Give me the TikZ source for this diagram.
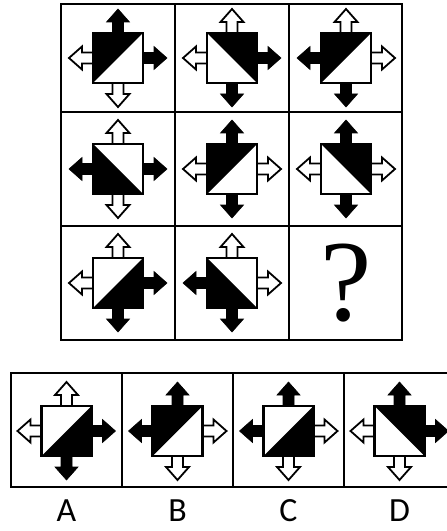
\documentclass[tikz,border=0pt]{standalone}
\usepackage{fontspec}
\setmainfont{Carlito}
\newfontfamily\qfont{Liberation Serif}
\tikzset{
  blkarrow/.style={fill=black, draw=black, line width=0.6bp, line join=miter},
  whtarrow/.style={fill=white, draw=black, line width=1.8bp, line join=miter},
  sqline/.style={draw=black, line width=2.6bp},
  gridline/.style={draw=black, line width=2bp},
  lbl/.style={font=\fontsize{34}{34}\selectfont, anchor=base, inner sep=0pt},
}
% arrow pointing down in local coordinates, rotated by #1
\newcommand{\puzarrow}[2]{%
  \draw[#2, rotate=#1] (-5.5,24) -- (-5.5,36) -- (-11.5,36) -- (0,49) -- (11.5,36) -- (5.5,36) -- (5.5,24) -- cycle;}
% #1,#2 centre; #3 black triangle; #4 up #5 right #6 down #7 left
\newcommand{\puzfig}[7]{%
  \begin{scope}[shift={(#1,#2)}]
    \puzarrow{180}{#4}\puzarrow{90}{#5}\puzarrow{0}{#6}\puzarrow{270}{#7}
    \fill[white] (-25,-25) rectangle (25,25);
    \fill[black] #3 -- cycle;
    \draw[sqline] (-25,-25) rectangle (25,25);
  \end{scope}}
\begin{document}
\begin{tikzpicture}[x=1bp, y=-1bp]
  \path[use as bounding box] (0,0) rectangle (447,531);
  \clip (0,0) rectangle (447,531);
  \fill[white] (0,0) rectangle (447,531);
  % top grid
  \draw[gridline] (61,4) rectangle (402,340);
  \draw[gridline] (175,4) -- (175,340) (289,4) -- (289,340)
                  (61,112) -- (402,112) (61,226) -- (402,226);
  % row 1
  \puzfig{118}{58}{(-25,-25) -- (25,-25) -- (-25,25)}{blkarrow}{blkarrow}{whtarrow}{whtarrow}
  \puzfig{232}{58}{(-25,-25) -- (25,-25) -- (25,25)}{whtarrow}{blkarrow}{blkarrow}{whtarrow}
  \puzfig{346}{58}{(-25,-25) -- (25,-25) -- (-25,25)}{whtarrow}{whtarrow}{blkarrow}{blkarrow}
  % row 2
  \puzfig{118}{169}{(-25,-25) -- (25,25) -- (-25,25)}{whtarrow}{blkarrow}{whtarrow}{blkarrow}
  \puzfig{232}{169}{(-25,-25) -- (25,-25) -- (-25,25)}{blkarrow}{whtarrow}{blkarrow}{whtarrow}
  \puzfig{346}{169}{(-25,-25) -- (25,-25) -- (25,25)}{blkarrow}{whtarrow}{blkarrow}{whtarrow}
  % row 3
  \puzfig{118}{283}{(25,-25) -- (25,25) -- (-25,25)}{whtarrow}{blkarrow}{blkarrow}{whtarrow}
  \puzfig{232}{283}{(-25,-25) -- (25,25) -- (-25,25)}{whtarrow}{whtarrow}{blkarrow}{blkarrow}
  \node[anchor=base, inner sep=0pt, font=\qfont\fontsize{116}{116}\selectfont] (q) at (346,320) {?};
  % options strip
  \draw[gridline] (11,373) rectangle (455,487);
  \draw[gridline] (122,373) -- (122,487) (233,373) -- (233,487) (344,373) -- (344,487);
  \puzfig{66.5}{431}{(25,-25) -- (25,25) -- (-25,25)}{whtarrow}{blkarrow}{blkarrow}{whtarrow}
  \puzfig{177.5}{431}{(-25,-25) -- (25,-25) -- (-25,25)}{blkarrow}{whtarrow}{whtarrow}{blkarrow}
  \puzfig{288.5}{431}{(25,-25) -- (25,25) -- (-25,25)}{blkarrow}{whtarrow}{whtarrow}{blkarrow}
  \puzfig{399.5}{431}{(-25,-25) -- (25,-25) -- (25,25)}{blkarrow}{blkarrow}{whtarrow}{whtarrow}
  \node[lbl] (la) at (66.5,521) {A};
  \node[lbl] (lb) at (177.5,521) {B};
  \node[lbl] (lc) at (288.5,521) {C};
  \node[lbl] (ld) at (399.5,521) {D};
\end{tikzpicture}
\end{document}
